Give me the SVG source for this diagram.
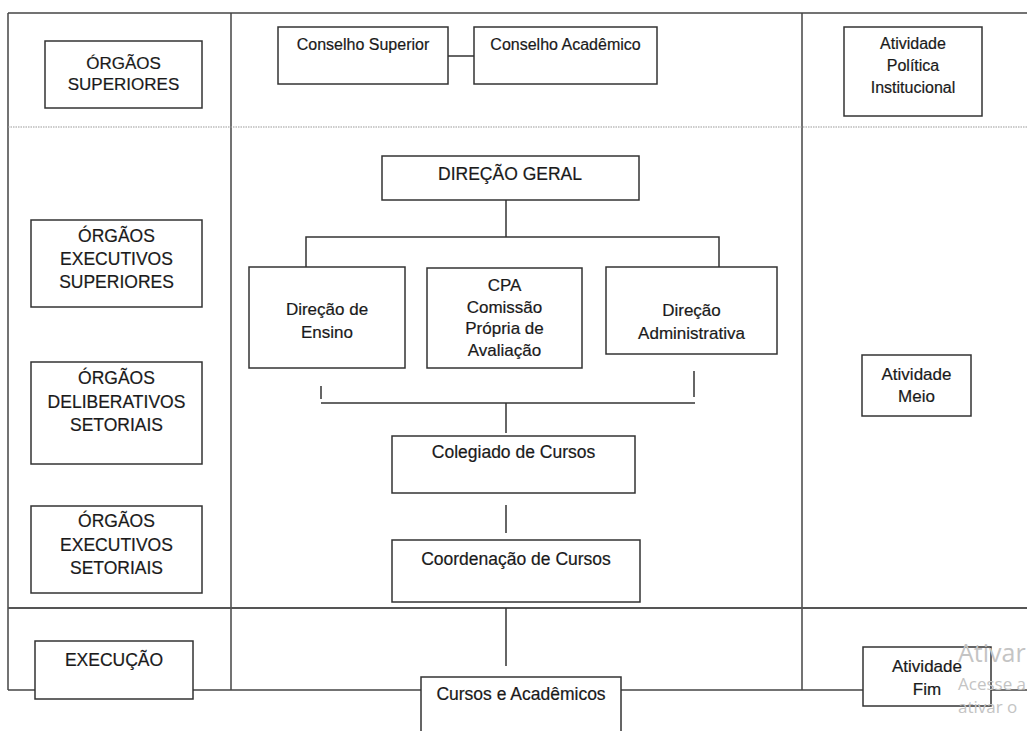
<svg xmlns="http://www.w3.org/2000/svg" width="1027" height="731" viewBox="0 0 1027 731">
<style>
.bx{fill:#fff;stroke:#333;stroke-width:1.5}
.ln{stroke:#333;stroke-width:1.5;fill:none}
.fr{stroke:#444;stroke-width:1.5;fill:none}
.t{font-family:"Liberation Sans",Arial,sans-serif;font-size:17.5px;fill:#1a1a1a;stroke:#1a1a1a;stroke-width:0.2;text-anchor:middle}
.s{font-size:16px}
.m{font-size:17px}
.wm{font-family:"Open Sans","Noto Sans",sans-serif;fill:#c4c4c4}
</style>
<rect width="1027" height="731" fill="#fff"/>
<g id="frame">
<line class="fr" x1="8" y1="13" x2="1027" y2="13" stroke-width="2" stroke="#555"/>
<line class="fr" x1="8" y1="13" x2="8" y2="690"/>
<line class="fr" x1="231" y1="13" x2="231" y2="690"/>
<line class="fr" x1="802" y1="13" x2="802" y2="690"/>
<line x1="8" y1="127" x2="1027" y2="127" stroke="#999" stroke-width="1.2" stroke-dasharray="1.5 1"/>
<line x1="8" y1="608" x2="1027" y2="608" stroke="#555" stroke-width="2"/>
<line class="fr" x1="8" y1="690" x2="1027" y2="690"/>
</g>
<g id="connectors">
<line class="ln" x1="448" y1="56" x2="474" y2="56"/>
<polyline class="ln" points="506,200 506,237"/>
<polyline class="ln" points="306,267 306,237 719,237 719,267"/>
<line class="ln" x1="321" y1="386" x2="321" y2="399"/>
<line class="ln" x1="694" y1="371" x2="694" y2="397"/>
<line class="ln" x1="321" y1="403" x2="695" y2="403"/>
<line class="ln" x1="506" y1="403" x2="506" y2="433"/>
<line class="ln" x1="506" y1="505" x2="506" y2="533"/>
<line class="ln" x1="506" y1="608" x2="506" y2="666"/>
</g>
<g id="orgaos-superiores"><rect class="bx" x="45" y="41" width="157" height="67"/><text class="t m" x="123.5" y="69">ÓRGÃOS</text><text class="t m" x="123.5" y="90">SUPERIORES</text></g>
<g id="conselho-superior"><rect class="bx" x="278" y="27" width="170" height="57"/><text class="t s" x="363" y="50">Conselho Superior</text></g>
<g id="conselho-academico"><rect class="bx" x="474" y="27" width="183" height="57"/><text class="t s" x="565.5" y="50">Conselho Acadêmico</text></g>
<g id="atividade-politica"><rect class="bx" x="844" y="27" width="138" height="89"/><text class="t s" x="913" y="49">Atividade</text><text class="t s" x="913" y="71">Política</text><text class="t s" x="913" y="93">Institucional</text></g>
<g id="direcao-geral"><rect class="bx" x="382" y="156" width="257" height="44"/><text class="t" x="510" y="180">DIREÇÃO GERAL</text></g>
<g id="orgaos-exec-sup"><rect class="bx" x="31" y="220" width="171" height="87"/><text class="t" x="116.5" y="242">ÓRGÃOS</text><text class="t" x="116.5" y="265">EXECUTIVOS</text><text class="t" x="116.5" y="288">SUPERIORES</text></g>
<g id="direcao-ensino"><rect class="bx" x="249" y="267" width="156" height="101"/><text class="t m" x="327" y="315">Direção de</text><text class="t m" x="327" y="338">Ensino</text></g>
<g id="cpa"><rect class="bx" x="427" y="268" width="155" height="100"/><text class="t m" x="504.5" y="291">CPA</text><text class="t m" x="504.5" y="312.5">Comissão</text><text class="t m" x="504.5" y="334">Própria de</text><text class="t m" x="504.5" y="355.5">Avaliação</text></g>
<g id="direcao-admin"><rect class="bx" x="606" y="267" width="171" height="87"/><text class="t m" x="691.5" y="316">Direção</text><text class="t m" x="691.5" y="339">Administrativa</text></g>
<g id="atividade-meio"><rect class="bx" x="862" y="355" width="109" height="61"/><text class="t m" x="916.5" y="380">Atividade</text><text class="t m" x="916.5" y="402">Meio</text></g>
<g id="orgaos-delib"><rect class="bx" x="31" y="362" width="171" height="102"/><text class="t" x="116.5" y="384">ÓRGÃOS</text><text class="t" x="116.5" y="407.5">DELIBERATIVOS</text><text class="t" x="116.5" y="431">SETORIAIS</text></g>
<g id="colegiado"><rect class="bx" x="392" y="436" width="243" height="57"/><text class="t" x="513.5" y="458">Colegiado de Cursos</text></g>
<g id="orgaos-exec-set"><rect class="bx" x="31" y="506" width="171" height="87"/><text class="t" x="116.5" y="527">ÓRGÃOS</text><text class="t" x="116.5" y="550.5">EXECUTIVOS</text><text class="t" x="116.5" y="574">SETORIAIS</text></g>
<g id="coordenacao"><rect class="bx" x="392" y="540" width="248" height="62"/><text class="t" x="516" y="565">Coordenação de Cursos</text></g>
<g id="execucao"><rect class="bx" x="35" y="641" width="158" height="58"/><text class="t" x="114" y="666">EXECUÇÃO</text></g>
<g id="cursos"><rect class="bx" x="421" y="677" width="200" height="60"/><text class="t" x="521" y="700">Cursos e Acadêmicos</text></g>
<g id="atividade-fim"><rect class="bx" x="863" y="647" width="128" height="59"/><text class="t m" x="927" y="672">Atividade</text><text class="t m" x="927" y="695">Fim</text></g>
<g id="watermark">
<text class="wm" x="958" y="662" font-size="25">Ativar</text>
<text class="wm" x="958" y="690" font-size="17">Acesse a</text>
<text class="wm" x="958" y="713" font-size="17">ativar o</text>
</g>
</svg>
